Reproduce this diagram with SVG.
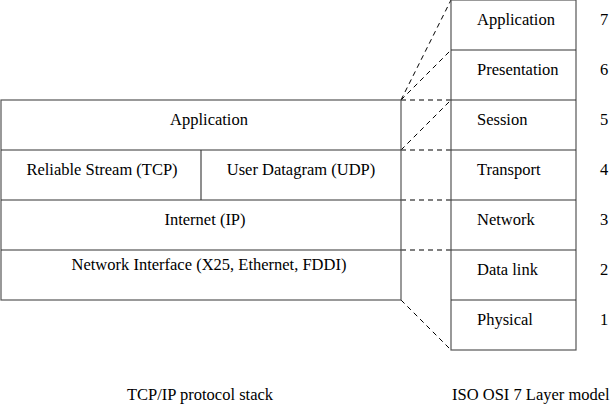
<svg xmlns="http://www.w3.org/2000/svg" width="611" height="404" viewBox="0 0 611 404">
<style>
text{font-family:"Times New Roman","Liberation Serif","DejaVu Serif","Noto Serif",Times,serif;font-size:16.5px;fill:#000}
.c{text-anchor:middle}
.box{fill:#fff;stroke:#555;stroke-width:1.2}
.ln{stroke:#333;stroke-width:1.1;fill:none}
.d{stroke:#000;stroke-width:1;stroke-dasharray:5,4;fill:none}
</style>
<rect width="611" height="404" fill="#fff"/>
<g id="connectors">
<line class="d" x1="401" y1="100" x2="451" y2="0"/>
<line class="d" x1="401" y1="100" x2="451" y2="50"/>
<line class="d" x1="401" y1="100" x2="451" y2="100"/>
<line class="d" x1="401" y1="150" x2="451" y2="100"/>
<line class="d" x1="401" y1="150" x2="451" y2="150"/>
<line class="d" x1="401" y1="200" x2="451" y2="200"/>
<line class="d" x1="401" y1="250" x2="451" y2="250"/>
<line class="d" x1="401" y1="300" x2="451" y2="350"/>
</g>
<g id="tcpip-stack">
<rect class="box" x="1" y="100" width="400" height="200"/>
<line class="ln" x1="1" y1="150" x2="401" y2="150"/>
<line class="ln" x1="1" y1="200" x2="401" y2="200"/>
<line class="ln" x1="1" y1="250" x2="401" y2="250"/>
<line class="ln" x1="201" y1="150" x2="201" y2="200"/>
</g>
<g id="tcp-application"><text class="c" x="209" y="125">Application</text></g>
<g id="tcp-tcp"><text class="c" x="102" y="175">Reliable Stream (TCP)</text></g>
<g id="tcp-udp"><text class="c" x="301" y="175">User Datagram (UDP)</text></g>
<g id="tcp-ip"><text class="c" x="205" y="225">Internet (IP)</text></g>
<g id="tcp-netif"><text class="c" x="209" y="270">Network Interface (X25, Ethernet, FDDI)</text></g>
<g id="osi-stack">
<rect class="box" x="451" y="0" width="125" height="350"/>
<line class="ln" x1="451" y1="50" x2="576" y2="50"/>
<line class="ln" x1="451" y1="100" x2="576" y2="100"/>
<line class="ln" x1="451" y1="150" x2="576" y2="150"/>
<line class="ln" x1="451" y1="200" x2="576" y2="200"/>
<line class="ln" x1="451" y1="250" x2="576" y2="250"/>
<line class="ln" x1="451" y1="300" x2="576" y2="300"/>
</g>
<g id="osi-7"><text x="477" y="25">Application</text><text x="600" y="25">7</text></g>
<g id="osi-6"><text x="477" y="75">Presentation</text><text x="600" y="75">6</text></g>
<g id="osi-5"><text x="477" y="125">Session</text><text x="600" y="125">5</text></g>
<g id="osi-4"><text x="477" y="175">Transport</text><text x="600" y="175">4</text></g>
<g id="osi-3"><text x="477" y="225">Network</text><text x="600" y="225">3</text></g>
<g id="osi-2"><text x="477" y="275">Data link</text><text x="600" y="275">2</text></g>
<g id="osi-1"><text x="477" y="325">Physical</text><text x="600" y="325">1</text></g>
<g id="captions">
<text x="127" y="400">TCP/IP protocol stack</text>
<text x="452" y="400">ISO OSI 7 Layer model</text>
</g>
</svg>
